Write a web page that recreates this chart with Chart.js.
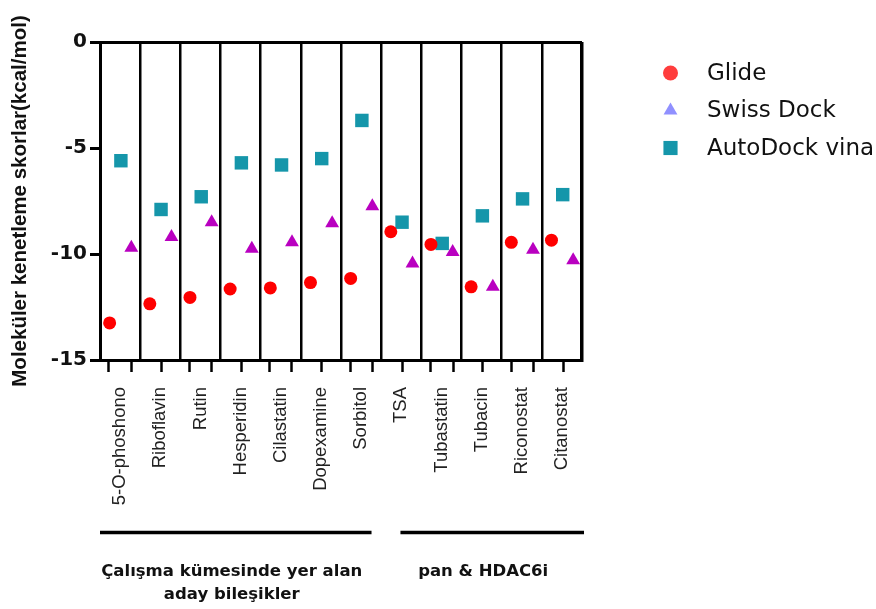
<!DOCTYPE html>
<html>
<head>
<meta charset="utf-8">
<script src="https://cdn.jsdelivr.net/npm/chart.js@4/dist/chart.umd.min.js"></script>
<style>
  html, body { margin: 0; padding: 0; background: #fff; }
  #wrap { width: 876px; height: 609px; position: relative; }
</style>
</head>
<body>
<div id="wrap"><canvas id="chart" width="876" height="609"></canvas></div>
<script>
// Compounds (x categories) and docking scores in kcal/mol
const compounds = ['5-O-phoshono', 'Riboflavin', 'Rutin', 'Hesperidin', 'Cilastatin', 'Dopexamine',
                   'Sorbitol', 'TSA', 'Tubastatin', 'Tubacin', 'Riconostat', 'Citanostat'];
const glideScores = [-13.25, -12.35, -12.05, -11.65, -11.6, -11.35, -11.15, -8.95, -9.55, -11.55, -9.45, -9.35];
const swissDockScores = [-9.7, -9.2, -8.5, -9.75, -9.45, -8.55, -7.75, -10.45, -9.9, -11.55, -9.8, -10.3];
const autoDockVinaScores = [-5.6, -7.9, -7.3, -5.7, -5.8, -5.5, -3.7, -8.5, -9.5, -8.2, -7.4, -7.2];
const yTickValues = [0, -5, -10, -15];

// Compound groups along the bottom
const groupNames = [['Çalışma kümesinde yer alan', 'aday bileşikler'], ['pan & HDAC6i']];
const groupSizes = [7, 5];

// Small tick marks under the x axis (in category units)
const xTickMarks = [0.22, 0.78, 1.52, 2.22, 2.78, 3.52, 4.22, 4.78, 5.52, 6.24, 6.79, 7.52,
                    8.23, 8.79, 9.53, 10.25, 10.8, 11.55];

const toPoints = (values, shift) => values.map((v, i) => ({ x: i + 0.5 + shift, y: v }));

const datasets = [
  {
    label: 'Glide',
    data: toPoints(glideScores, -0.26),
    pointStyle: 'circle', pointRadius: 6.5,
    backgroundColor: '#ff0000', borderWidth: 0,
    legendColor: '#ff3d3d', legendRadius: 7.5
  },
  {
    label: 'Swiss Dock',
    data: toPoints(swissDockScores, 0.28),
    pointStyle: 'triangle', pointRadius: 8,
    backgroundColor: '#b900c0', borderWidth: 0,
    legendColor: '#9090ff', legendRadius: 8
  },
  {
    label: 'AutoDock vina',
    data: toPoints(autoDockVinaScores, 0.02),
    pointStyle: 'rect', pointRadius: 9.5,
    backgroundColor: '#1596aa', borderWidth: 0,
    legendColor: '#1596aa', legendRadius: 10
  }
];
datasets.forEach(d => { d.pointBackgroundColor = d.backgroundColor; d.pointBorderWidth = 0; d.showLine = false; });

// Legend on the right, drawn with Chart.js point helpers
const sideLegend = {
  id: 'sideLegend',
  afterDraw(chart, args, opts) {
    const ctx = chart.ctx;
    ctx.save();
    chart.data.datasets.forEach((ds, i) => {
      const y = opts.top + i * opts.step;
      ctx.fillStyle = ds.legendColor;
      Chart.helpers.drawPoint(ctx, { pointStyle: ds.pointStyle, radius: ds.legendRadius, rotation: 0, borderWidth: 0 }, opts.markerX, y);
      ctx.fillStyle = '#111';
      ctx.font = opts.font;
      ctx.textAlign = 'left';
      ctx.textBaseline = 'middle';
      ctx.fillText(ds.label, opts.textX, y + 1);
    });
    ctx.restore();
  }
};

// Group underlines and captions below the compound names
const groupBrackets = {
  id: 'groupBrackets',
  afterDraw(chart, args, opts) {
    const ctx = chart.ctx;
    const xs = chart.scales.x;
    ctx.save();
    let start = 0;
    groupSizes.forEach((n, g) => {
      const end = start + n;
      const x1 = xs.getPixelForValue(start + opts.insets[g][0]);
      const x2 = xs.getPixelForValue(end + opts.insets[g][1]);
      ctx.strokeStyle = '#000';
      ctx.lineWidth = opts.lineWidth;
      ctx.beginPath();
      ctx.moveTo(x1, opts.lineY);
      ctx.lineTo(x2, opts.lineY);
      ctx.stroke();
      const cx = xs.getPixelForValue(start + opts.captionCenters[g]);
      ctx.fillStyle = '#111';
      ctx.font = opts.font;
      ctx.textAlign = 'center';
      ctx.textBaseline = 'middle';
      groupNames[g].forEach((line, k) => ctx.fillText(line, cx, opts.textY + k * opts.lineHeight));
      start = end;
    });
    ctx.restore();
  }
};

new Chart(document.getElementById('chart'), {
  type: 'scatter',
  data: { datasets },
  plugins: [sideLegend, groupBrackets],
  options: {
    responsive: false,
    animation: false,
    events: [],
    layout: { padding: { top: 42, right: 294, left: 0, bottom: 0 } },
    plugins: {
      legend: { display: false },
      tooltip: { enabled: false },
      sideLegend: { markerX: 670.5, textX: 707, top: 73, step: 37.5, font: '23px "DejaVu Sans"' },
      groupBrackets: {
        lineY: 532.5, lineWidth: 3.5,
        insets: [[0, -0.24], [0.48, 0.05]],
        captionCenters: [3.28, 2.54],
        textY: 571.5, lineHeight: 23.5,
        font: 'bold 16.5px "DejaVu Sans"'
      }
    },
    scales: {
      x: {
        type: 'linear', position: 'bottom', min: 0, max: 12,
        ticks: { stepSize: 1, display: false },
        grid: {
          color: '#000', drawTicks: false, drawOnChartArea: true,
          lineWidth: ctx => (ctx.tick && ctx.tick.value === 12) ? 3.5 : 2.5
        },
        border: { display: true, color: '#000', width: 3 },
        afterFit(scale) { scale.height = 0; }
      },
      xMarks: {
        type: 'linear', position: 'bottom', min: 0, max: 12,
        afterBuildTicks(scale) { scale.ticks = xTickMarks.map(v => ({ value: v })); },
        ticks: { display: false },
        grid: { drawOnChartArea: false, drawTicks: true, tickLength: 12, tickWidth: 2.5, tickColor: '#000', color: '#000' },
        border: { display: false },
        afterFit(scale) { scale.height = 12; }
      },
      xNames: {
        type: 'category', position: 'bottom', labels: compounds, offset: true,
        grid: { display: false, drawTicks: false },
        border: { display: false },
        ticks: {
          autoSkip: false, minRotation: 90, maxRotation: 90, padding: 15,
          color: '#222', font: { family: '"Liberation Sans", Arial, sans-serif', size: 18.5 }
        },
        afterFit(scale) { scale.height = 237; }
      },
      y: {
        type: 'linear', position: 'left', min: -15, max: 0,
        afterBuildTicks(scale) { scale.ticks = yTickValues.map(v => ({ value: v })); },
        ticks: {
          padding: 3, color: '#111',
          font: { family: '"DejaVu Sans", sans-serif', size: 20, weight: 'bold' }
        },
        grid: {
          drawOnChartArea: true, drawTicks: true, tickLength: 10,
          lineWidth: 3, tickWidth: 3, tickColor: '#000',
          color: ctx => (ctx.tick && ctx.tick.value === 0) ? '#000' : 'rgba(0,0,0,0)'
        },
        border: { display: true, color: '#000', width: 3 },
        title: {
          display: true, text: 'Moleküler kenetleme skorlar(kcal/mol)', color: '#111',
          font: { family: '"Liberation Sans", Arial, sans-serif', size: 20.5, weight: 'bold' },
          padding: { top: 8, bottom: 0 }
        },
        afterFit(scale) { scale.width = 100; }
      }
    }
  }
});
</script>
</body>
</html>
